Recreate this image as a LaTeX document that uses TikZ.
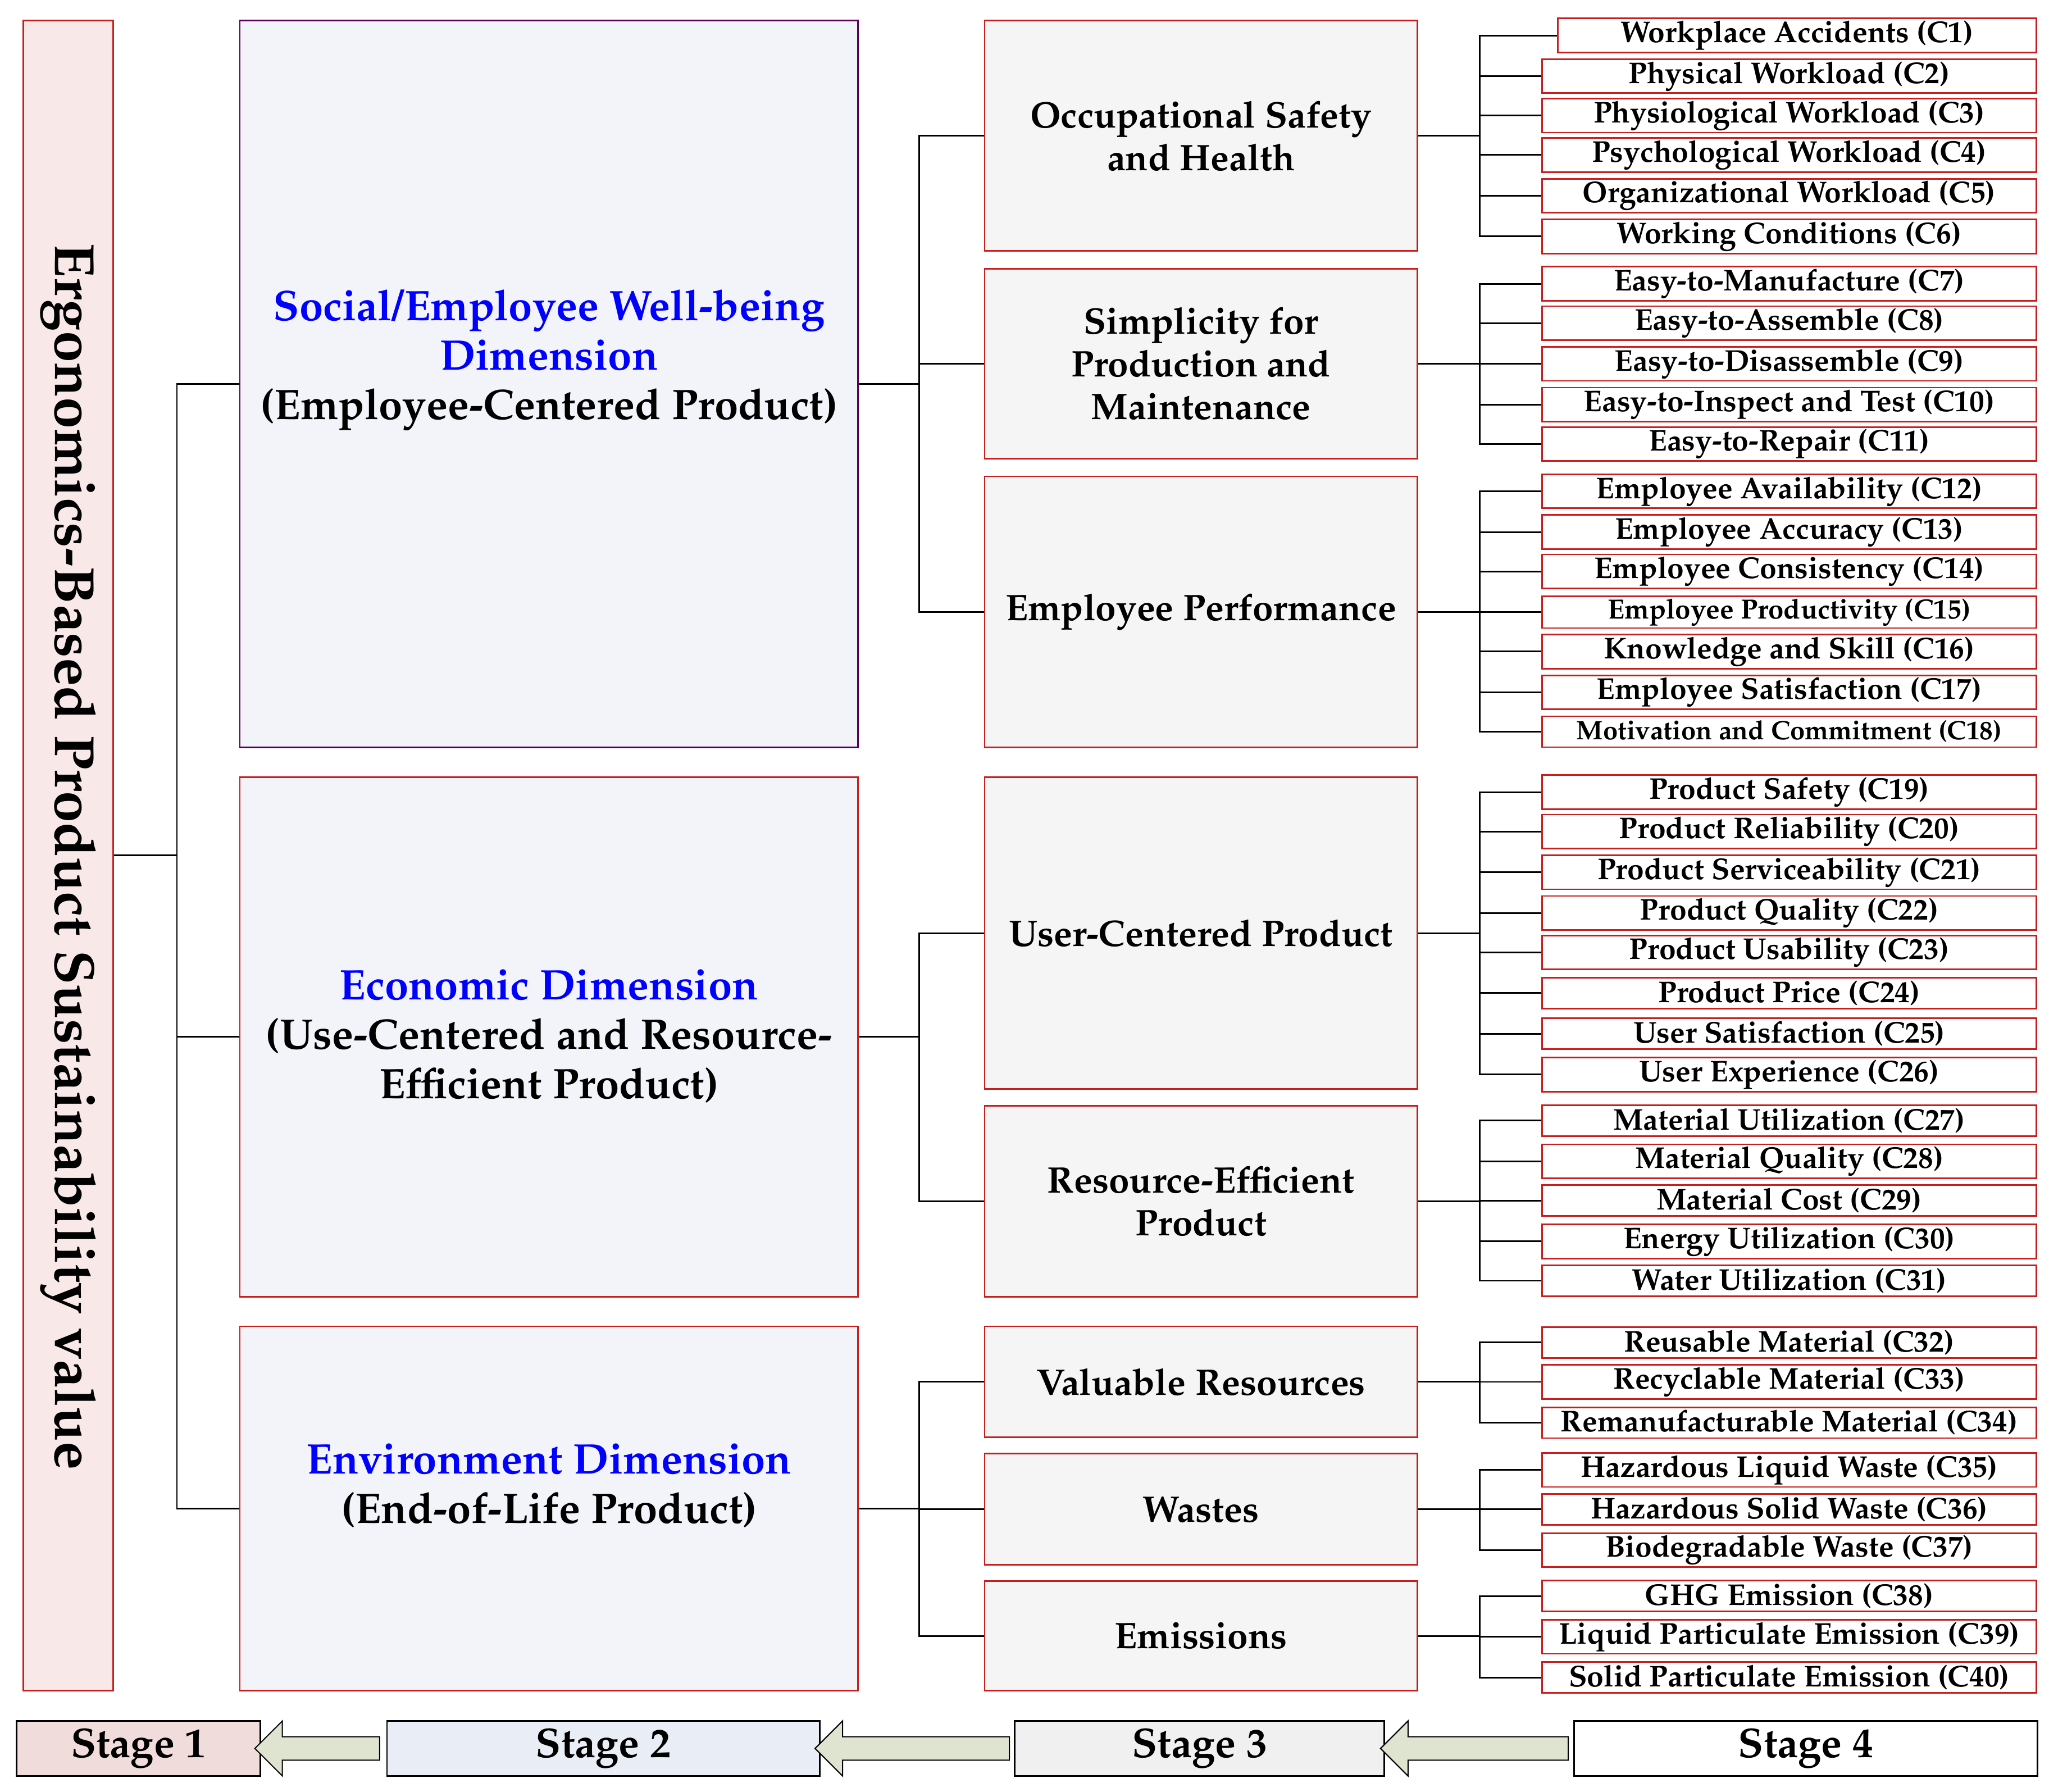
\documentclass[tikz,border=0pt]{standalone}
\usepackage[T1]{fontenc}
\renewcommand{\rmdefault}{ppl}
\usepackage{tikz}
\usetikzlibrary{shapes.arrows}
\definecolor{boxred}{RGB}{200,30,30}
\definecolor{rootfill}{RGB}{249,232,232}
\definecolor{dimfill}{RGB}{242,244,249}
\definecolor{subfill}{RGB}{245,245,245}
\definecolor{arrowfill}{RGB}{222,228,208}
\definecolor{stageone}{RGB}{239,220,219}
\definecolor{stagetwo}{RGB}{233,237,245}
\tikzset{
  every node/.style={font=\bfseries},
  box/.style={draw=boxred, line width=0.7pt, inner sep=2pt, align=center},
  crit/.style={box, fill=white, minimum height=0.47cm, anchor=east, inner sep=1pt, font=\bfseries\fontsize{13}{14}\selectfont},
  sub/.style={box, fill=subfill, anchor=north west},
  subtext/.style={font=\bfseries\fontsize{16}{18.5}\selectfont, align=center},
  dim/.style={box, fill=dimfill, anchor=north west},
  dimtext/.style={font=\bfseries\fontsize{18.5}{21.5}\selectfont, align=center},
  stage/.style={draw=black, line width=0.7pt, anchor=west, minimum height=0.82cm, font=\bfseries\fontsize{18}{20}\selectfont},
  link/.style={line width=0.7pt},
  back/.style={single arrow, draw=black, line width=0.5pt, fill=arrowfill, shape border rotate=180,
    single arrow head extend=0.24cm, minimum height=#1, minimum width=0.8cm, inner xsep=0pt, inner ysep=0.17cm}
}
\begin{document}
\begin{tikzpicture}[x=0.02cm, y=-0.02cm]
  \useasboundingbox (0,0) rectangle (1560,1364);
  % root
  \node[box, fill=rootfill, anchor=north west, minimum width=1.37cm, minimum height=25.43cm] (root) at (17,15) {};
  \node[rotate=-90, font=\bfseries\fontsize{24.5}{26}\selectfont] (rootlabel) at (52,652) {Ergonomics-Based Product Sustainability value};
  % dimensions
  \node[dim, draw=violet!70!black, minimum width=9.41cm, minimum height=11.07cm] (social) at (182,15) {};
  \node[dimtext] (sociallabel) at (418,274) {\textcolor{blue}{Social/Employee Well-being}\\\textcolor{blue}{Dimension}\\(Employee-Centered Product)};
  \node[dim, minimum width=9.41cm, minimum height=7.91cm] (econ) at (182,591) {};
  \node[dimtext] (econlabel) at (418,789) {\textcolor{blue}{Economic Dimension}\\(Use-Centered and Resource-\\Efficient Product)};
  \node[dim, minimum width=9.41cm, minimum height=5.55cm] (env) at (182,1009) {};
  \node[dimtext] (envlabel) at (418,1131) {\textcolor{blue}{Environment Dimension}\\(End-of-Life Product)};
  % sub-criteria
  \node[sub, minimum width=6.59cm, minimum height=3.51cm] (osh) at (749,15) {};
  \node[subtext] at (osh.center) {Occupational Safety\\and Health};
  \node[sub, minimum width=6.59cm, minimum height=2.89cm] (simp) at (749,204) {};
  \node[subtext] at (simp.center) {Simplicity for\\Production and\\Maintenance};
  \node[sub, minimum width=6.59cm, minimum height=4.13cm] (perf) at (749,362) {};
  \node[subtext] at (perf.center) {Employee Performance};
  \node[sub, minimum width=6.59cm, minimum height=4.75cm] (user) at (749,591) {};
  \node[subtext] at (user.center) {User-Centered Product};
  \node[sub, minimum width=6.59cm, minimum height=2.91cm] (res) at (749,841) {};
  \node[subtext] at (res.center) {Resource-Efficient\\Product};
  \node[sub, minimum width=6.59cm, minimum height=1.69cm] (valu) at (749,1009) {};
  \node[subtext] at (valu.center) {Valuable Resources};
  \node[sub, minimum width=6.59cm, minimum height=1.69cm] (waste) at (749,1106) {};
  \node[subtext] at (waste.center) {Wastes};
  \node[sub, minimum width=6.59cm, minimum height=1.67cm] (emis) at (749,1203) {};
  \node[subtext] at (emis.center) {Emissions};
  % criteria
  \node[crit, minimum width=7.29cm] (c1) at (1551,27) {Workplace Accidents (C1)};
  \foreach \i/\y/\t in {
    2/58/Physical Workload (C2), 3/88/Physiological Workload (C3), 4/118/Psychological Workload (C4),
    5/149/Organizational Workload (C5), 6/180/Working Conditions (C6),
    7/216/Easy-to-Manufacture (C7), 8/246/Easy-to-Assemble (C8), 9/277/Easy-to-Disassemble (C9),
    10/308/Easy-to-Inspect and Test (C10), 11/338/Easy-to-Repair (C11),
    12/374/Employee Availability (C12), 13/405/Employee Accuracy (C13), 14/435/Employee Consistency (C14),
    15/466/Employee Productivity (C15), 16/496/Knowledge and Skill (C16), 17/527/Employee Satisfaction (C17),
    18/557/Motivation and Commitment (C18),
    19/603/Product Safety (C19), 20/633/Product Reliability (C20), 21/664/Product Serviceability (C21),
    22/695/Product Quality (C22), 23/725/Product Usability (C23), 24/756/Product Price (C24),
    25/787/User Satisfaction (C25), 26/818/User Experience (C26),
    27/853/Material Utilization (C27), 28/884/Material Quality (C28), 29/914/Material Cost (C29),
    30/945/Energy Utilization (C30), 31/975/Water Utilization (C31),
    32/1022/Reusable Material (C32), 33/1052/Recyclable Material (C33), 34/1083/Remanufacturable Material (C34),
    35/1119/Hazardous Liquid Waste (C35), 36/1149/Hazardous Solid Waste (C36), 37/1180/Biodegradable Waste (C37),
    38/1215/GHG Emission (C38), 39/1246/Liquid Particulate Emission (C39), 40/1277/Solid Particulate Emission (C40)}
    \node[crit, minimum width=7.53cm] (c\i) at (1551,\y) {\ifnum\i=15 \fontsize{12}{14}\selectfont\fi\ifnum\i=18 \fontsize{11.5}{14}\selectfont\fi\t};
  % connectors
  \foreach \d in {social,econ,env}
    \draw[link] (root.east) -- ++(48,0) |- (\d.west);
  \foreach \s in {osh,simp,perf}
    \draw[link] (social.east) -- ++(46,0) |- (\s.west);
  \foreach \s in {user,res}
    \draw[link] (econ.east) -- ++(46,0) |- (\s.west);
  \foreach \s in {valu,waste,emis}
    \draw[link] (env.east) -- ++(46,0) |- (\s.west);
  \foreach \s/\a/\b in {osh/1/6, simp/7/11, perf/12/18, user/19/26, res/27/31, valu/32/34, waste/35/37, emis/38/40}
    \foreach \i in {\a,...,\b}
      \draw[link] (\s.east) -- ++(47,0) |- (c\i.west);
  % stages
  \node[stage, fill=stageone, minimum width=3.71cm] (stage1) at (12,1331) {Stage 1};
  \node[stage, fill=stagetwo, minimum width=6.59cm] (stage2) at (294,1331) {Stage 2};
  \node[stage, fill=black!6, minimum width=5.63cm] (stage3) at (772,1331) {Stage 3};
  \node[stage, fill=white, minimum width=7.05cm] (stage4) at (1198,1331) {Stage 4};
  \node[back=1.9cm] (arrow1) at (246,1331) {};
  \node[back=2.96cm] (arrow2) at (699,1331) {};
  \node[back=2.86cm] (arrow3) at (1127,1331) {};
\end{tikzpicture}
\end{document}
